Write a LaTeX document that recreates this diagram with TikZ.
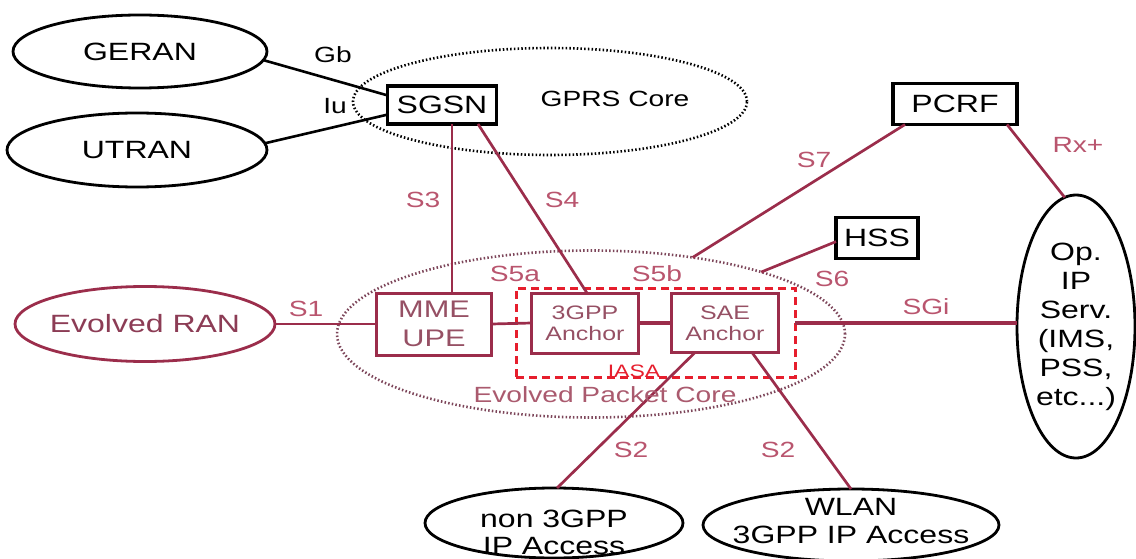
\documentclass[tikz,border=0pt]{standalone}
\usepackage{fontspec}
\setmainfont{Liberation Sans}[FakeStretch=1.28]
\usetikzlibrary{shapes.geometric,calc}
\definecolor{mar}{RGB}{155,45,75}
\definecolor{labc}{RGB}{185,85,110}
\definecolor{boxtxt}{RGB}{150,80,100}
\definecolor{rantxt}{RGB}{140,60,85}
\definecolor{epcdot}{RGB}{125,70,90}
\definecolor{epctxt}{RGB}{170,90,110}
\definecolor{iasared}{RGB}{230,30,45}
\begin{document}
\begin{tikzpicture}[x=1pt,y=-1pt,
  bigf/.style={font=\fontsize{25}{29}\selectfont},
  iff/.style={font=\fontsize{22}{26}\selectfont, text=labc, inner sep=0},
  ell/.style={ellipse, draw, line width=2.8pt, inner sep=0, outer sep=0},
  dotell/.style={ellipse, draw, line width=2.6pt, dash pattern=on 1.5pt off 2.2pt, inner sep=0, outer sep=0},
  blkbox/.style={rectangle, draw, fill=white, inner sep=0, outer sep=0, bigf},
  marbox/.style={rectangle, draw=mar, line width=3pt, inner sep=0, outer sep=0, align=center},
  blk/.style={draw=black, line width=2.6pt},
  conn/.style={draw=mar, line width=2.7pt}
]
\useasboundingbox (0,0) rectangle (1136,559);

% background dotted cores
\node[dotell, minimum width=394, minimum height=107] (gprs) at (550,101.5) {};
\node[dotell, draw=epcdot, minimum width=508, minimum height=167] (epc) at (591,334) {};

% ellipses
\node[ell, minimum width=254, minimum height=73, label={[bigf]center:GERAN}] (geran) at (140,51.5) {};
\node[ell, minimum width=260, minimum height=74, label={[bigf]center:UTRAN}] (utran) at (137,150) {};
\node[ell, draw=mar, minimum width=260, minimum height=75, label={[bigf,text=rantxt]center:Evolved RAN}] (ran) at (145,324) {};
\node[ell, minimum width=118, minimum height=263,
  label={[font=\fontsize{25}{29}\selectfont, align=center]center:Op.\\IP\\Serv.\\(IMS,\\PSS,\\etc...)}] (op) at (1076,326.5) {};
\node[ell, minimum width=258, minimum height=70,
  label={[font=\fontsize{25}{27}\selectfont, align=center, yshift=-9pt]center:non 3GPP\\IP Access}] (non) at (554,523) {};
\node[ell, minimum width=296, minimum height=72,
  label={[font=\fontsize{25}{28}\selectfont, align=center, yshift=4pt]center:WLAN\\3GPP IP Access}] (wlan) at (851,525) {};

% black boxes
\node[blkbox, line width=3.8pt, minimum width=109, minimum height=38] (sgsn) at (442,105) {SGSN};
\node[blkbox, line width=3.4pt, minimum width=124, minimum height=41] (pcrf) at (955,104) {PCRF};
\node[blkbox, line width=3.8pt, minimum width=82, minimum height=41] (hss) at (877,238) {HSS};

% maroon boxes
\node[marbox, minimum width=115, minimum height=62, text=boxtxt, font=\fontsize{24}{29}\selectfont] (mme) at (434,324) {MME\\UPE};
\node[marbox, minimum width=107, minimum height=60, text=boxtxt, font=\fontsize{19.5}{21}\selectfont] (tgpp) at (585,323) {3GPP\\Anchor};
\node[marbox, minimum width=107, minimum height=59, text=boxtxt, font=\fontsize{19.5}{21}\selectfont] (sae) at (725,323) {SAE\\Anchor};
\node[rectangle, draw=iasared, line width=3pt, dash pattern=on 8pt off 5pt, inner sep=0, outer sep=0,
  minimum width=279, minimum height=89] (iasa) at (655.5,332.5) {};

% black connectors
\draw[blk] (geran.-4) -- (sgsn.170);
\draw[blk] (utran.3) -- (sgsn.190);

% maroon connectors
\draw[conn] ([xshift=10pt]sgsn.south) -- ([xshift=10pt]sgsn.south |- mme.north);
\draw[conn] ([xshift=36pt]sgsn.south) -- ([xshift=2pt]tgpp.north);
\draw[conn] ([xshift=12pt]pcrf.south west) -- (epc.37);
\draw[conn] ([xshift=-10pt]pcrf.south east) -- (op.95);
\draw[conn] (hss.185) -- (epc.20);
\draw[conn] (ran.east) -- (mme.west);
\draw[conn] (mme.east) -- (tgpp.west);
\draw[conn, line width=3.4pt] (tgpp.east) -- (sae.west);
\draw[conn, line width=3.4pt] (iasa.east |- sae.east) -- (op.west |- sae.east);
\draw[conn] ([xshift=-30pt]sae.south) -- (non.85);
\draw[conn] ([xshift=27pt]sae.south) -- (wlan.north);

% texts
\node[font=\fontsize{22}{26}\selectfont, inner sep=0] (tgb) at (333,55) {Gb};
\node[font=\fontsize{22}{26}\selectfont, inner sep=0] (tiu) at (335,106) {Iu};
\node[font=\fontsize{22}{26}\selectfont, inner sep=0] (tgprs) at (615,99) {GPRS Core};
\node[iff] (ts3) at (423,200) {S3};
\node[iff] (ts4) at (562,200) {S4};
\node[iff] (ts7) at (814,160) {S7};
\node[iff] (trx) at (1078,145) {Rx+};
\node[iff] (ts6) at (832,279) {S6};
\node[iff] (ts5a) at (515,274) {S5a};
\node[iff] (ts5b) at (657,274) {S5b};
\node[iff] (ts1) at (306,309) {S1};
\node[iff] (tsgi) at (926,307) {SGi};
\node[iff] (ts2a) at (631,450) {S2};
\node[iff] (ts2b) at (778,450) {S2};
\node[font=\fontsize{22}{26}\selectfont, text=epctxt, inner sep=0] (tepc) at (605,395) {Evolved Packet Core};
\node[font=\fontsize{18}{20}\selectfont, text=iasared, inner sep=0] (tiasa) at (634,371) {IASA};
\end{tikzpicture}
\end{document}
